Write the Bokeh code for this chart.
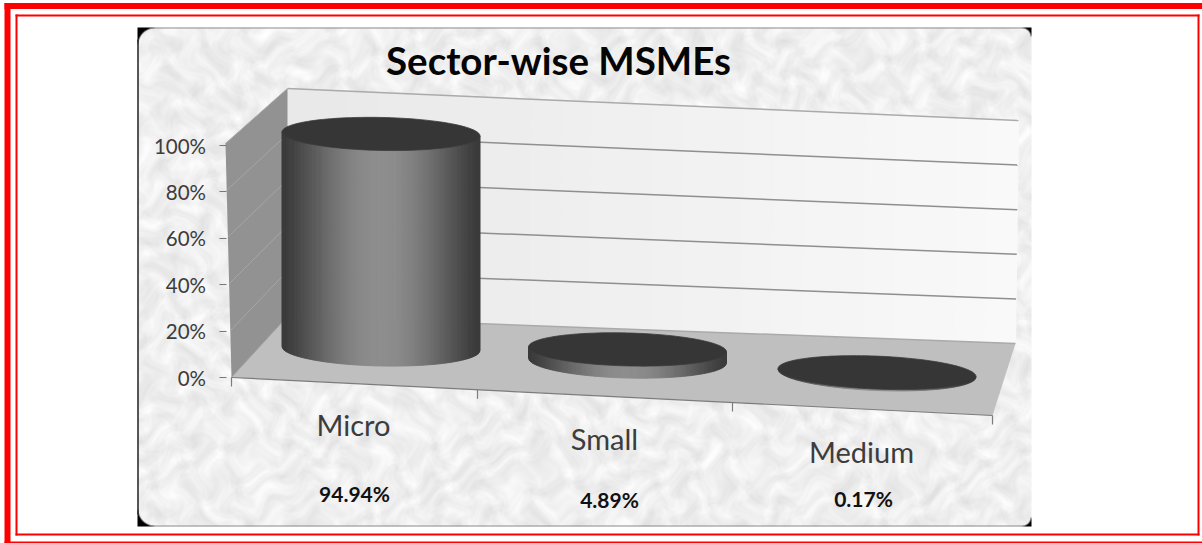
import numpy as np
from bokeh.plotting import figure
from bokeh.models import Range1d, LinearAxis, FixedTicker
from bokeh.core.properties import value
from bokeh.embed import file_html
from bokeh.resources import INLINE

# ---- data ----
title_text = "Sector-wise MSMEs"
categories = ["Micro", "Small", "Medium"]
shares = [94.94, 4.89, 0.17]
share_labels = ["94.94%", "4.89%", "0.17%"]
pct_ticks = [0, 20, 40, 60, 80, 100]
pct_tick_labels = ["0%", "20%", "40%", "60%", "80%", "100%"]

# ---- layout of the oblique 3D projection (page pixels) ----
W, H = 1202, 543
Y0, Y100 = 377.0, 145.0          # where the value axis has 0 % and 100 %
CYL_PX = 2.26                    # cylinder height in pixels per percentage point
base_cx = [380.5, 627.0, 876.5]
base_cy = [348.0, 360.0, 372.5]
rx, ry_top, ry_base = 99.0, 16.5, 17.5
tilts = [0.02, 0.025, 0.04]
cat_lab_x = [353, 604, 861]
cat_lab_y = [424, 438, 451]
share_lab_x = [354, 609, 863]
share_lab_y = [493, 499, 498]
cat_tick_x = [231, 477, 732, 992]

p = figure(width=W, height=H, x_range=Range1d(0, W), y_range=Range1d(H, 0),
           output_backend="svg", toolbar_location=None, min_border=0,
           x_axis_location=None, y_axis_location=None,
           background_fill_color="white", border_fill_color="white", outline_line_color=None)
p.grid.visible = False
p.styles = {"position": "absolute", "left": "0px", "top": "0px"}
p.extra_y_ranges = {"pct": Range1d(-(H - Y0) * 100 / (Y0 - Y100), 100 + Y100 * 100 / (Y0 - Y100))}

# ---- red frames ----
RED = "#ff0000"
def frame(x0, y0, x1, y1, t):
    p.quad(left=[x0, x0, x0, x1 - t], right=[x1, x1, x0 + t, x1],
           top=[y0, y1 - t, y0, y0], bottom=[y0 + t, y1, y1, y1],
           fill_color=RED, line_color=None)
frame(4, 2.6, 1212, 553, 6)
p.quad(left=[4], right=[1202], top=[541], bottom=[543], fill_color=RED, line_color=None)
frame(15, 14, 1199, 535, 2)

# ---- textured rounded panel ----
PX0, PY0, PX1, PY1 = 137, 27, 1031, 526
yy, xx = np.mgrid[0:PY1 - PY0, 0:PX1 - PX0].astype(float)
wx = xx + 14 * np.sin(yy * .041 + 1.3 * np.sin(xx * .023)) + 6 * np.sin(yy * .137 + xx * .061)
wy = yy + 14 * np.sin(xx * .037 + 1.1 * np.sin(yy * .029)) + 6 * np.sin(xx * .149 - yy * .053)
tex = (1.5 * np.sin(wx * .17) * np.sin(wy * .19)
       + 1.1 * np.sin(wx * .083 + wy * .061) * np.sin(wy * .113 - wx * .047)
       + .7 * np.sin(wx * .41 + 1.9 * np.sin(wy * .23)) * np.sin(wy * .37 + 1.7 * np.sin(wx * .29)))
g = np.clip(240 + tex * 5, 0, 255)
hh, ww = g.shape
# black shows through in the rounded corners: large on the left, small on the right
def corner_cover(cx, cy, R):
    return np.clip(R + .5 - np.hypot(xx - cx, yy - cy), 0, 1)
cover = np.ones_like(g)
RL, RR = 17.0, 9.0
cover = np.where((xx < RL) & (yy < RL), corner_cover(RL, RL, RL), cover)
cover = np.where((xx < RL) & (yy > hh - 1 - RL), corner_cover(RL, hh - 1 - RL, RL), cover)
cover = np.where((xx > ww - 1 - RR) & (yy < RR), corner_cover(ww - 1 - RR, RR, RR), cover)
cover = np.where((xx > ww - 1 - RR) & (yy > hh - 1 - RR), corner_cover(ww - 1 - RR, hh - 1 - RR, RR), cover)
g = (g * cover).astype(np.uint32)
img = g | (g << 8) | (g << 16) | (np.uint32(255) << 24)
p.image_rgba(image=[img], x=[PX0], y=[PY0], dw=[ww], dh=[hh])
p.segment(x0=[PX0 + 12, PX0 + 12], y0=[PY0 + .5, PY1 - .5], x1=[PX1 - 8, PX1 - 8], y1=[PY0 + .5, PY1 - .5],
          line_color="#8c8c8c", line_width=1.2)
p.segment(x0=[PX0 + .5], y0=[PY0 + 12], x1=[PX0 + .5], y1=[PY1 - 12], line_color="#222222", line_width=1.5)

# ---- chart box ----
BL_F, BL_B, BR_B, BR_F = (231, 377), (287, 316), (1015, 343), (992, 415)
TL_B, TR_B, TL_F = (287, 88), (1018, 120), (225, 143)

# back wall in vertical bands, light gradient
n = 24
fx = np.linspace(0, 1, n + 1)
xs, ys, cols = [], [], []
for i in range(n):
    a, b = fx[i], fx[i + 1]
    xa, xb = TL_B[0] + a * (TR_B[0] - TL_B[0]), TL_B[0] + b * (TR_B[0] - TL_B[0])
    xs.append([xa, xb, BL_B[0] + b * (BR_B[0] - BL_B[0]), BL_B[0] + a * (BR_B[0] - BL_B[0])])
    ys.append([TL_B[1] + a * (TR_B[1] - TL_B[1]), TL_B[1] + b * (TR_B[1] - TL_B[1]),
               BL_B[1] + b * (BR_B[1] - BL_B[1]), BL_B[1] + a * (BR_B[1] - BL_B[1])])
    v = int(233 + 17 * a)
    cols.append(f"#{v:02x}{v:02x}{v:02x}")
p.patches(xs, ys, fill_color=cols, line_color=cols, line_width=1.2)

# floor, left wall
p.patch([BL_F[0], BL_B[0], BR_B[0], BR_F[0]], [BL_F[1], BL_B[1], BR_B[1], BR_F[1]],
        fill_color="#bfbfbf", line_color=None)
p.patch([TL_F[0], TL_B[0], BL_B[0], BL_F[0]], [TL_F[1], TL_B[1], BL_B[1], BL_F[1]],
        fill_color="#929292", line_color=None)

# gridlines on the back and the left wall
for t in pct_ticks:
    f = t / 100
    yl = BL_B[1] + f * (TL_B[1] - BL_B[1])
    xr, yr = BR_B[0] + f * (TR_B[0] - BR_B[0]), BR_B[1] + f * (TR_B[1] - BR_B[1])
    xf, yf = BL_F[0] + f * (TL_F[0] - BL_F[0]), BL_F[1] + f * (TL_F[1] - BL_F[1])
    p.line([TL_B[0], xr], [yl, yr], line_color="#8f8f8f" if 0 < t < 100 else "#aaaaaa", line_width=1.5)
    p.line([xf, TL_B[0]], [yf, yl], line_color="#a6a6a6", line_width=1)
# floor front edge and category ticks
p.line([BL_F[0], BR_F[0]], [BL_F[1], BR_F[1]], line_color="#7c7c7c", line_width=1.2)
ty = [BL_F[1] + (x - BL_F[0]) / (BR_F[0] - BL_F[0]) * (BR_F[1] - BL_F[1]) for x in cat_tick_x]
p.segment(x0=cat_tick_x, y0=ty, x1=cat_tick_x, y1=[y + 9 for y in ty], line_color="#7c7c7c", line_width=1.2)

# ---- cylinders ----
def shade(t):
    return int(58 + 84 * np.cos(t * np.pi / 2) ** 1.3)

m = 90
for cx, cy, val, tilt in zip(base_cx, base_cy, shares, tilts):
    top_cy = cy - val * CYL_PX
    edges = np.linspace(-1, 1, m + 1)
    sx, sy, sc = [], [], []
    for a, b in zip(edges[:-1], edges[1:]):
        ts = np.linspace(a, b, 4)
        bx = cx + rx * ts
        by = cy + ry_base * np.sqrt(np.clip(1 - ts ** 2, 0, 1)) + tilt * rx * ts
        sx.append([bx[0], bx[-1]] + list(bx[::-1]))
        sy.append([top_cy + tilt * rx * a, top_cy + tilt * rx * b] + list(by[::-1]))
        v = shade((a + b) / 2)
        sc.append(f"#{v:02x}{v:02x}{v:02x}")
    p.patches(sx, sy, fill_color=sc, line_color=sc, line_width=1)
    th = np.linspace(0, 2 * np.pi, 121)
    p.patch(cx + rx * np.cos(th), top_cy + ry_top * np.sin(th) + tilt * rx * np.cos(th),
            fill_color="#363636", line_color="#3c3c3c", line_width=.8)

# ---- value axis ----
ax = LinearAxis(y_range_name="pct", fixed_location=225.5,
                ticker=FixedTicker(ticks=pct_ticks),
                major_label_overrides={t: l for t, l in zip(pct_ticks, pct_tick_labels)})
ax.axis_line_color = None
ax.minor_tick_line_color = None
ax.major_tick_in = 0
ax.major_tick_out = 7
ax.major_tick_line_color = "#777777"
ax.major_tick_line_width = 1.2
ax.major_label_standoff = 13
ax.major_label_text_font = "Lato"
ax.major_label_text_font_size = "20.5px"
ax.major_label_text_color = "#3c3c3c"
p.add_layout(ax, "left")

# ---- texts ----
p.text(x=[558], y=[59], text=[title_text], text_font=value("Lato"), text_font_size="38.5px",
       text_font_style="bold", text_color="#050505", text_align="center", text_baseline="middle")
p.text(x=cat_lab_x, y=cat_lab_y, text=categories, text_font=value("Lato"), text_font_size="29px",
       text_color="#3c3c3c", text_align="center", text_baseline="middle")
p.text(x=share_lab_x, y=share_lab_y, text=share_labels, text_font=value("Lato"), text_font_size="21px",
       text_font_style="bold", text_color="#111111", text_align="center", text_baseline="middle")

html = file_html(p, INLINE)
open("out.html", "w").write(html)
